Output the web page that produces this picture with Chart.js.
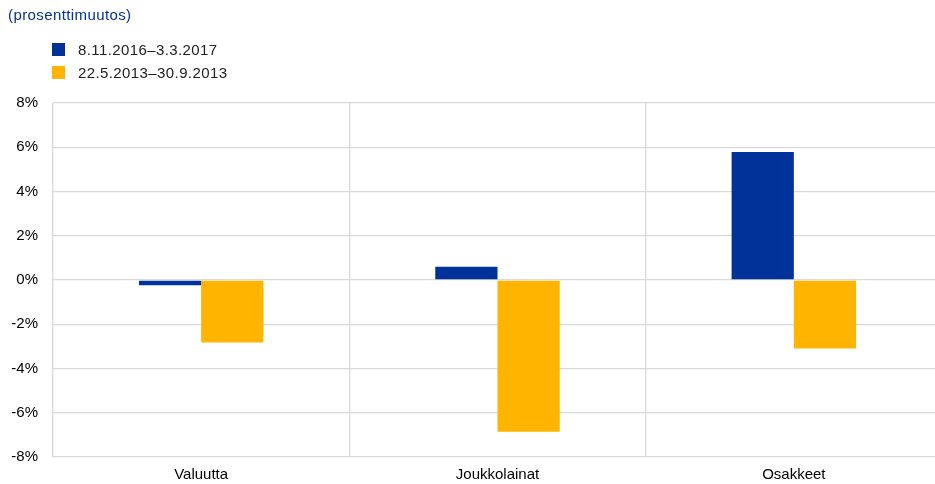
<!DOCTYPE html>
<html lang="fi">
<head>
    <meta charset="UTF-8">
    <title>Prosenttimuutos</title>
    <script src="https://cdn.jsdelivr.net/npm/chart.js"></script>
    <style>
        body { margin: 0; background: #fff; font-family: "Liberation Sans", Arial, sans-serif; overflow: hidden; }
        #wrap { position: relative; width: 935px; height: 484px; overflow: hidden; }
        #title { position: absolute; left: 8px; top: 6px; font-size: 15px; color: #003299; letter-spacing: 0.4px; }
        #legend { position: absolute; left: 52px; top: 38px; font-size: 15px; color: #222; letter-spacing: 0.4px; }
        .item { display: flex; align-items: center; height: 23px; }
        .box { width: 13px; height: 13px; margin-right: 13px; }
        canvas { position: absolute; left: 0; top: 0; }
    </style>
</head>
<body>
<div id="wrap">
    <canvas id="chart" width="950" height="484"></canvas>
    <div id="title">(prosenttimuutos)</div>
    <div id="legend"></div>
</div>
<script>
    const categories = ["Valuutta", "Joukkolainat", "Osakkeet"];
    const seriesNames = ["8.11.2016\u20133.3.2017", "22.5.2013\u201330.9.2013"];
    const recent = [-0.24, 0.6, 5.78];
    const taper = [-2.83, -6.86, -3.1];
    const colors = ["#003299", "#FFB400"];

    const datasets = [recent, taper].map((d, i) => ({
        label: seriesNames[i],
        data: d,
        backgroundColor: colors[i],
        borderWidth: 0,
        categoryPercentage: 0.42,
        barPercentage: 1.0
    }));

    // legend as html, stacked rows
    const legend = document.getElementById("legend");
    datasets.forEach(ds => {
        const row = document.createElement("div");
        row.className = "item";
        row.innerHTML = '<span class="box" style="background:' + ds.backgroundColor + '"></span>' + ds.label;
        legend.appendChild(row);
    });

    const tickFont = { family: "Liberation Sans", size: 15 };

    new Chart(document.getElementById("chart"), {
        type: "bar",
        data: { labels: categories, datasets: datasets },
        options: {
            responsive: false,
            animation: false,
            layout: { padding: { top: 103, right: 8, left: 0, bottom: 0 } },
            plugins: {
                legend: { display: false },
                tooltip: { enabled: false }
            },
            scales: {
                x: {
                    grid: { color: "#d9d9d9", lineWidth: 1.3, drawTicks: false },
                    border: { display: false },
                    ticks: { color: "#000", font: tickFont, padding: 9 },
                    afterFit: s => { s.height = 27; }
                },
                y: {
                    min: -8, max: 8,
                    grid: { color: "#d9d9d9", lineWidth: 1.3, drawTicks: false },
                    border: { display: false },
                    ticks: {
                        stepSize: 2,
                        color: "#000",
                        font: tickFont,
                        padding: 15,
                        callback: v => v + "%"
                    },
                    afterFit: s => { s.width = 53; }
                }
            }
        }
    });
</script>
</body>
</html>
